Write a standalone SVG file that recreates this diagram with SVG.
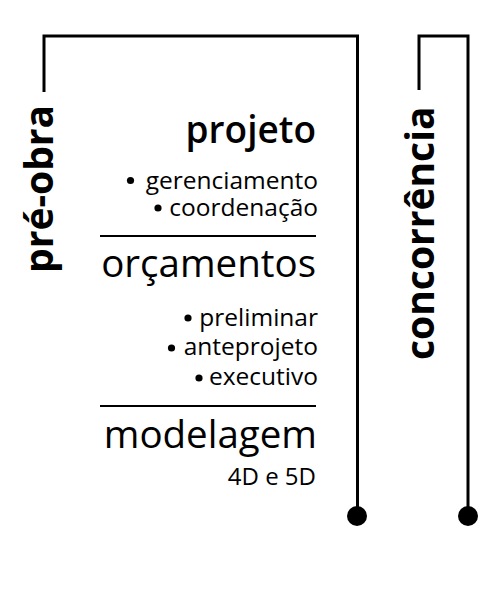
<svg xmlns="http://www.w3.org/2000/svg" width="498" height="596" viewBox="0 0 498 596">
<style>
.ln{fill:none;stroke:#000;stroke-width:3}
.sep{stroke:#000;stroke-width:2}
.v{font-family:"Open Sans",sans-serif;font-weight:700;font-size:39px;fill:#000}
.h{font-family:"Open Sans",sans-serif;font-size:38.5px;font-weight:500;fill:#000;text-anchor:end}
.h.b{font-weight:600;font-size:37px}
.s{font-family:"Open Sans",sans-serif;font-size:24.5px;fill:#000;text-anchor:end}
.s.n{font-size:24px}
</style>
<rect width="498" height="596" fill="#fff"/>
<g id="connectors">
<path class="ln" d="M44 92 V36 H357.5 V515"/>
<path class="ln" d="M419 90 V36 H468 V515"/>
<circle cx="357" cy="516" r="10"/>
<circle cx="468" cy="516" r="10"/>
</g>
<g id="pre-obra">
<text class="v" transform="translate(53 273) rotate(-90)">pré-obra</text>
</g>
<g id="concorrencia">
<text class="v" transform="translate(433.5 360) rotate(-90)">concorrência</text>
</g>
<g id="projeto">
<text class="h b" x="316" y="143">projeto</text>
<circle cx="130.5" cy="180.5" r="3.6"/>
<text class="s" x="318" y="189">gerenciamento</text>
<circle cx="158" cy="208" r="3.6"/>
<text class="s" x="318" y="216">coordenação</text>
</g>
<line class="sep" x1="100" y1="236" x2="316" y2="236"/>
<g id="orcamentos">
<text class="h" x="316" y="277">orçamentos</text>
<circle cx="188" cy="318" r="3.6"/>
<text class="s" x="318" y="326">preliminar</text>
<circle cx="171.5" cy="348" r="3.6"/>
<text class="s" x="318" y="355">anteprojeto</text>
<circle cx="199" cy="378" r="3.6"/>
<text class="s" x="318" y="385">executivo</text>
</g>
<line class="sep" x1="100" y1="406" x2="316" y2="406"/>
<g id="modelagem">
<text class="h" x="317" y="448">modelagem</text>
<text class="s n" x="316" y="485">4D e 5D</text>
</g>
</svg>
